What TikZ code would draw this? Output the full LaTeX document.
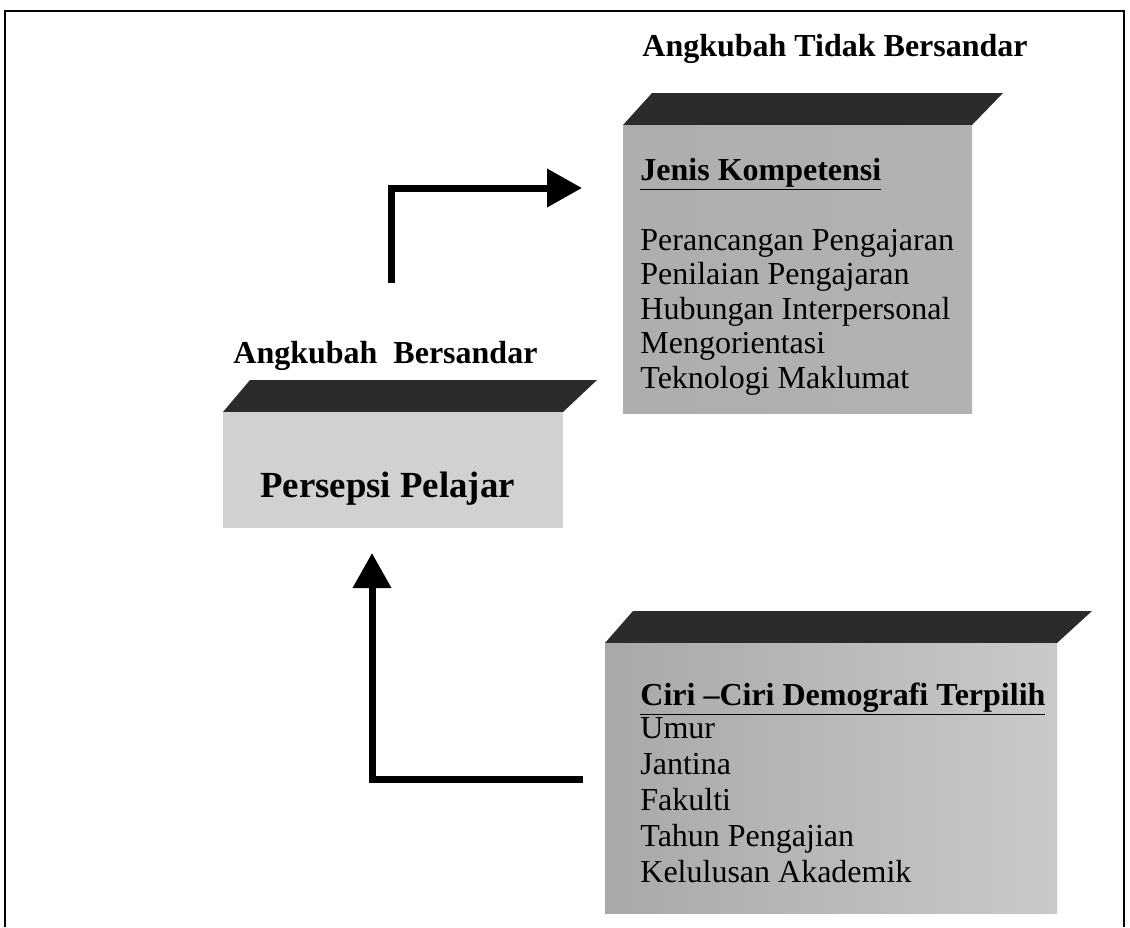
\documentclass[tikz,border=0pt]{standalone}
\usepackage{fontspec}
\setmainfont{Liberation Serif}
\usepackage{tikz}
\usetikzlibrary{arrows.meta}
\definecolor{topgray}{gray}{0.17}
\definecolor{paleface}{gray}{0.82}
% #1 left, #2 bottom of top face, #3 right, #4 bottom, #5/#6 slant of top face, #7 front fill
\newcommand{\slab}[7]{%
  \fill[topgray] (#1,#2) -- (#1+#5,#2-32) -- (#3+#6,#2-32) -- (#3,#2) -- cycle;
  \fill[#7] (#1,#2) rectangle (#3,#4);
}

\begin{document}
\begin{tikzpicture}[x=0.5pt, y=-0.5pt,
  lbl/.style={font=\fontsize{16}{19}\selectfont\bfseries, anchor=base west, inner sep=0pt},
  item/.style={font=\fontsize{16}{19}\selectfont, anchor=base west, inner sep=0pt},
  flow/.style={line width=3.5pt, -{Triangle[length=17.5pt,width=18.5pt]}}]
  \useasboundingbox (0,0) rectangle (1130,927);
  \draw[line width=1pt] (5,927) -- (5,11) -- (1124,11) -- (1124,927);

  % the three slabs
  \slab{623}{125}{972}{413}{29}{31}{left color=gray!64, right color=gray!60}
  \slab{223}{412}{563}{528}{27}{34}{paleface}
  \slab{605}{643}{1057}{913}{28}{35}{left color=gray!68, right color=gray!42}

  \node[lbl] (tidak) at (642,56) {Angkubah Tidak Bersandar};
  \node[lbl] (bersandar) at (233,363) {Angkubah\ \ Bersandar};
  \node[lbl, font=\fontsize{18.4}{22}\selectfont\bfseries] (persepsi) at (260,497) {Persepsi Pelajar};

  \node[lbl] (jenis) at (640,180) {\underline{Jenis Kompetensi}};
  \foreach \t [count=\i] in {Perancangan Pengajaran, Penilaian Pengajaran,
      Hubungan Interpersonal, Mengorientasi, Teknologi Maklumat}
    \node[item] (komp\i) at (640,215.5+34.5*\i) {\t};

  \node[lbl] (ciri) at (640,705) {\underline{Ciri –Ciri Demografi Terpilih}};
  \foreach \t [count=\i] in {Umur, Jantina, Fakulti, Tahun Pengajian, Kelulusan Akademik}
    \node[item] (demo\i) at (640,702+36*\i) {\t};

  % arrows
  \coordinate (a1s) at (391,283);
  \coordinate (a1e) at (582,188);
  \coordinate (a2s) at (583,779);
  \coordinate (a2e) at (372,553);
  \draw[flow] (a1s) |- (a1e);
  \draw[flow] (a2s) -| (a2e);
\end{tikzpicture}
\end{document}
